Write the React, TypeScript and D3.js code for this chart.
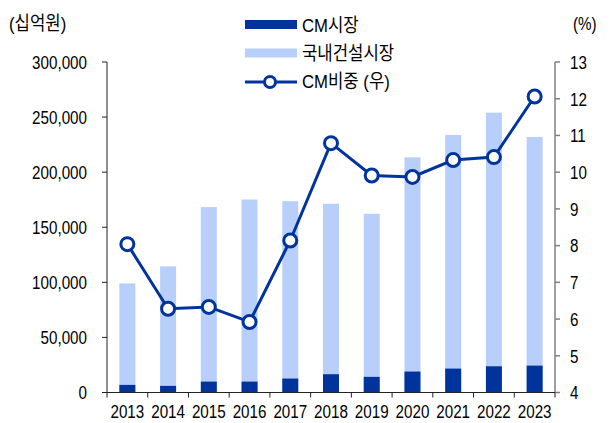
import React from "react";
import * as d3 from "d3";

const years = ["2013","2014","2015","2016","2017","2018","2019","2020","2021","2022","2023"];
const totalMarket = [99000, 114500, 168300, 175200, 173700, 171300, 162200, 213500, 233800, 254000, 232000];
const cmMarket = [6900, 6000, 9900, 9900, 12650, 16600, 14200, 19000, 21700, 23800, 24400];
const cmShare = [8.04, 6.28, 6.33, 5.92, 8.14, 10.79, 9.91, 9.87, 10.33, 10.41, 12.06];
const leftTicks = [0, 50000, 100000, 150000, 200000, 250000, 300000];
const rightTicks = [4, 5, 6, 7, 8, 9, 10, 11, 12, 13];

const DARK = "#00349C";
const LIGHT = "#B9CFFB";
const FONT = "'Liberation Sans', Arial, 'Noto Sans CJK KR', sans-serif";

function T({ x, y, anchor = "start", sx = 0.8, size = 19, children }: any) {
  return (
    <text transform={`translate(${x},${y}) scale(${sx},1)`} dy="0.36em" textAnchor={anchor} fontSize={size} fill="#000">
      {children}
    </text>
  );
}

export default function App() {
  const W = 611, H = 423;
  const x0 = 107, x1 = 555, yTop = 62, yBot = 392.5;
  const x = d3.scaleBand<string>().domain(years).range([x0, x1]).padding(0);
  const yL = d3.scaleLinear().domain([0, 300000]).range([yBot, yTop]);
  const yR = d3.scaleLinear().domain([4, 13]).range([yBot, yTop]);
  const bw = 16;
  const cx = (y: string) => (x(y) as number) + x.bandwidth() / 2;
  const line = d3.line<number>().x((_, i) => cx(years[i])).y(d => yR(d));
  const fmt = d3.format(",");
  const boundaries = years.map(y => x(y) as number).concat([x1]);

  return (
    <svg width={W} height={H} style={{ position: "fixed", left: 0, top: 0, background: "#fff" }} fontFamily={FONT}>
      {years.map((y, i) => (
        <rect key={"t" + y} x={cx(y) - bw / 2} y={yL(totalMarket[i])} width={bw} height={yBot - yL(totalMarket[i])} fill={LIGHT} />
      ))}
      {years.map((y, i) => (
        <rect key={"c" + y} x={cx(y) - bw / 2} y={yL(cmMarket[i])} width={bw} height={yBot - yL(cmMarket[i])} fill={DARK} />
      ))}
      {/* left axis */}
      <line x1={x0} x2={x0} y1={yTop} y2={yBot} stroke="#222" strokeWidth={1} />
      {leftTicks.map(t => (
        <g key={"l" + t}>
          <line x1={x0 - 5} x2={x0} y1={yL(t)} y2={yL(t)} stroke="#222" />
          <T x={87} y={yL(t)} anchor="end">{fmt(t)}</T>
        </g>
      ))}
      {/* right axis */}
      <line x1={x1} x2={x1} y1={yTop} y2={yBot} stroke="#808080" strokeWidth={1.5} />
      {rightTicks.map(t => (
        <g key={"r" + t}>
          <line x1={x1} x2={x1 + 5} y1={yR(t)} y2={yR(t)} stroke="#808080" strokeWidth={1.5} />
          <T x={570} y={yR(t)}>{t}</T>
        </g>
      ))}
      {/* x axis */}
      <line x1={x0} x2={x1} y1={yBot} y2={yBot} stroke="#222" />
      {boundaries.map((b, i) => (
        <line key={"b" + i} x1={b} x2={b} y1={yBot} y2={yBot + 5} stroke="#222" />
      ))}
      {years.map(y => (
        <T key={"x" + y} x={cx(y)} y={411} anchor="middle">{y}</T>
      ))}
      {/* line */}
      <path d={line(cmShare) as string} fill="none" stroke={DARK} strokeWidth={3} />
      {cmShare.map((v, i) => (
        <circle key={"m" + i} cx={cx(years[i])} cy={yR(v)} r={6.5} fill="#fff" stroke={DARK} strokeWidth={3} />
      ))}
      {/* unit labels */}
      <T x={9} y={23} sx={0.88}>(십억원)</T>
      <T x={573} y={23}>(%)</T>
      {/* legend */}
      <rect x={245} y={20} width={52} height={9} fill={DARK} />
      <T x={302} y={25} sx={0.88}>CM시장</T>
      <rect x={245} y={48.5} width={52} height={9} fill={LIGHT} />
      <T x={302} y={53} sx={0.88}>국내건설시장</T>
      <line x1={245} x2={297} y1={82} y2={82} stroke={DARK} strokeWidth={3} />
      <circle cx={270} cy={82} r={5.5} fill="#fff" stroke={DARK} strokeWidth={3} />
      <T x={302} y={81.5} sx={0.88}>CM비중 (우)</T>
    </svg>
  );
}
